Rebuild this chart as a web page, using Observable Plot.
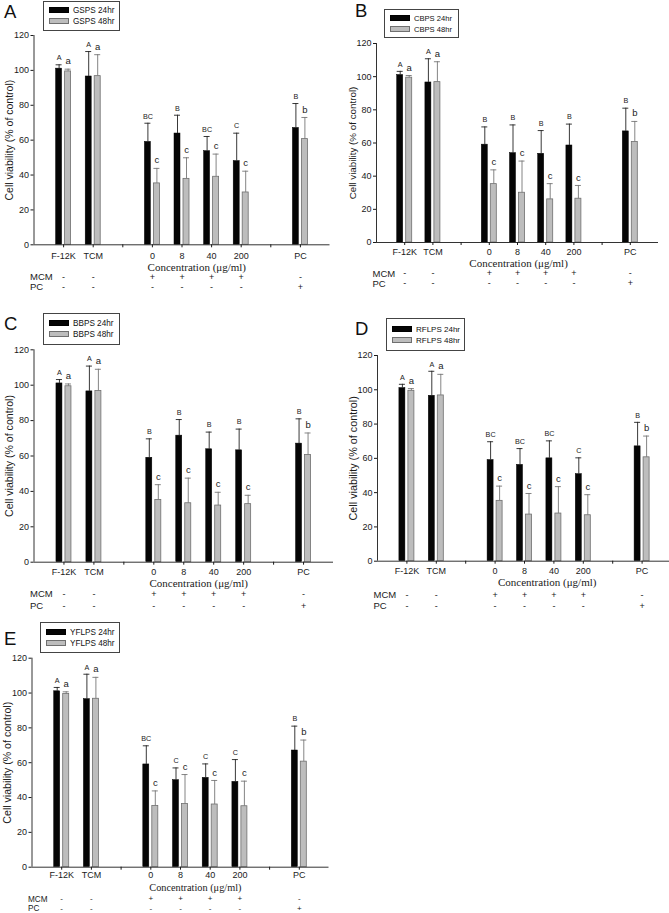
<!DOCTYPE html>
<html><head><meta charset="utf-8">
<script src="https://cdn.jsdelivr.net/npm/d3@7"></script>
<script src="https://cdn.jsdelivr.net/npm/@observablehq/plot@0.6"></script>
<style>
body{margin:0;background:#fff;}
#page{position:relative;width:669px;height:913px;overflow:hidden;background:#fff;font-family:"Liberation Sans",Arial,sans-serif;color:#111;}
.panel{position:absolute;}
.letter{position:absolute;font-size:18.5px;line-height:1;color:#111;}
.legend{position:absolute;border:1px solid #444;background:#fff;box-sizing:border-box;padding:5px 0 0 5px;}
.lrow{display:flex;align-items:center;height:8px;margin-bottom:3px;font-size:8px;color:#111;white-space:nowrap;}
.sw{width:20px;height:6px;margin-right:4px;box-sizing:border-box;flex:none;}
</style></head>
<body><div id="page"></div>
<script>
// ---- shared categories / tick labels ----
const categories = ["F-12K", "TCM", "", "0", "8", "40", "200", "", "PC"];
const groups = ["F-12K", "TCM", "0", "8", "40", "200", "PC"];
const mcmSigns = ["-", "-", "+", "+", "+", "+", "-"];
const pcSigns  = ["-", "-", "-", "-", "-", "-", "+"];
const yTicks = [0, 20, 40, 60, 80, 100, 120];
const yLabel = "Cell viability (% of control)";
const xLabel = "Concentration (\u03bcg/ml)";

// ---- Panel A: GSPS ----
const gspsMean24 = [101, 96.5, 59, 63.8, 53.7, 48, 67];
const gspsSd24   = [2.2, 14.3, 10.7, 10.5, 8.4, 16, 14];
const gspsMean48 = [99.4, 96.7, 35.2, 37.8, 39, 30, 60.6];
const gspsSd48   = [1.3, 12.3, 8.6, 12.1, 13, 12.2, 12.4];
const gspsLet24  = ["A", "A", "BC", "B", "BC", "C", "B"];
const gspsLet48  = ["a", "a", "c", "c", "c", "c", "b"];

// ---- Panel B: CBPS ----
const cbpsMean24 = [101, 96.5, 59, 53.9, 53.5, 58.5, 67];
const cbpsSd24   = [2.2, 14.3, 10.7, 17, 14, 12.9, 14];
const cbpsMean48 = [99.4, 96.7, 35.2, 30, 26, 26.4, 60.6];
const cbpsSd48   = [1.3, 12.3, 8.6, 19.1, 9.5, 8, 12.4];
const cbpsLet24  = ["A", "A", "B", "B", "B", "B", "B"];
const cbpsLet48  = ["a", "a", "c", "c", "c", "c", "b"];

// ---- Panel C: BBPS ----
const bbpsMean24 = [101, 96.5, 59, 71.5, 63.8, 63.2, 67];
const bbpsSd24   = [2.2, 14.3, 10.7, 9.1, 9.7, 12, 14];
const bbpsMean48 = [99.4, 96.7, 35.2, 33.3, 32, 32.8, 60.6];
const bbpsSd48   = [1.3, 12.3, 8.6, 14.2, 7.5, 5, 12.4];
const bbpsLet24  = ["A", "A", "B", "B", "B", "B", "B"];
const bbpsLet48  = ["a", "a", "c", "c", "c", "c", "b"];

// ---- Panel D: RFLPS ----
const rflpsMean24 = [101, 96.5, 59, 56.2, 60, 50.8, 67];
const rflpsSd24   = [2.2, 14.3, 10.7, 9.5, 10.2, 9.5, 14];
const rflpsMean48 = [99.4, 96.7, 35.2, 27.2, 27.8, 26.8, 60.6];
const rflpsSd48   = [1.3, 12.3, 8.6, 12.3, 15.7, 12, 12.4];
const rflpsLet24  = ["A", "A", "BC", "BC", "BC", "C", "B"];
const rflpsLet48  = ["a", "a", "c", "c", "c", "c", "b"];

// ---- Panel E: YFLPS ----
const yflpsMean24 = [101, 96.5, 59, 50, 51.3, 49, 67];
const yflpsSd24   = [2.2, 14.3, 10.7, 7, 8, 12.8, 14];
const yflpsMean48 = [99.4, 96.7, 35.2, 36.3, 36, 35, 60.6];
const yflpsSd48   = [1.3, 12.3, 8.6, 16.9, 13.8, 14.4, 12.4];
const yflpsLet24  = ["A", "A", "BC", "C", "C", "C", "B"];
const yflpsLet48  = ["a", "a", "c", "c", "c", "c", "b"];

const panels = [
  {letter: "A", name: "GSPS",  m24: gspsMean24,  s24: gspsSd24,  m48: gspsMean48,  s48: gspsSd48,  l24: gspsLet24,  l48: gspsLet48},
  {letter: "B", name: "CBPS",  m24: cbpsMean24,  s24: cbpsSd24,  m48: cbpsMean48,  s48: cbpsSd48,  l24: cbpsLet24,  l48: cbpsLet48},
  {letter: "C", name: "BBPS",  m24: bbpsMean24,  s24: bbpsSd24,  m48: bbpsMean48,  s48: bbpsSd48,  l24: bbpsLet24,  l48: bbpsLet48},
  {letter: "D", name: "RFLPS", m24: rflpsMean24, s24: rflpsSd24, m48: rflpsMean48, s48: rflpsSd48, l24: rflpsLet24, l48: rflpsLet48},
  {letter: "E", name: "YFLPS", m24: yflpsMean24, s24: yflpsSd24, m48: yflpsMean48, s48: yflpsSd48, l24: yflpsLet24, l48: yflpsLet48}
];

// ---- layout (page pixel coordinates) ----
const layouts = {
  A: {left: 0,   top: 0,   w: 335, h: 300, axisX: 33.5, axisR: 329.5, yTop: 35,    yBot: 244.3, letterXY: [4, 3],     leg: [43, 1, 77, 30],    legFont: 8.2, tickPad: 5,   concDy: 23,   concDx: 0,   concSize: 11,   mcmDy: 32,   pcDy: 42,   rowSize: 9.5, signSize: 9, yLabSize: 10.5},
  B: {left: 335, top: 0,   w: 334, h: 300, axisX: 376,  axisR: 658,   yTop: 43,    yBot: 242,   letterXY: [355, 2],   leg: [384, 9, 75, 29],   legFont: 7.6, tickPad: 3,   concDy: 21,   concDx: -13, concSize: 11,   mcmDy: 31,   pcDy: 41,   rowSize: 9.5, signSize: 9, yLabSize: 9.8},
  C: {left: 0,   top: 300, w: 335, h: 313, axisX: 33.5, axisR: 333,   yTop: 349.3, yBot: 561.7, letterXY: [4, 315],   leg: [43, 313, 77, 32],  legFont: 8.2, tickPad: 3,   concDy: 21,   concDx: 0,   concSize: 11,   mcmDy: 32,   pcDy: 44,   rowSize: 9.5, signSize: 9, yLabSize: 10.6},
  D: {left: 335, top: 300, w: 334, h: 313, axisX: 377,  axisR: 671,   yTop: 355,   yBot: 560.7, letterXY: [355, 320], leg: [386, 318, 79, 33], legFont: 8,   tickPad: 3,   concDy: 21,   concDx: 8,   concSize: 11,   mcmDy: 34,   pcDy: 45,   rowSize: 9.5, signSize: 9, yLabSize: 10.8},
  E: {left: 0,   top: 613, w: 335, h: 300, axisX: 31.5, axisR: 328.5, yTop: 657.7, yBot: 866.7, letterXY: [4, 630],   leg: [40, 622, 80, 31],  legFont: 8.2, tickPad: 1.5, concDy: 20.8, concDx: 0,   concSize: 10.3, mcmDy: 31.7, pcDy: 41.3, rowSize: 8.2, signSize: 8, yLabSize: 10.6}
};

const page = document.getElementById("page");

function drawPanel(p) {
  const L = layouts[p.letter];
  const n = categories.length;
  const slot = (L.axisR - L.axisX) / (n + 1);
  const u = px => px / slot;
  const rows = groups.map((g, j) => ({
    i: categories.indexOf(g),
    m24: p.m24[j], s24: p.s24[j], m48: p.m48[j], s48: p.s48[j],
    l24: p.l24[j], l48: p.l48[j], mcm: mcmSigns[j], pc: pcSigns[j]
  }));
  const concX = (categories.indexOf("0") + categories.indexOf("200")) / 2;
  const blackFill = "#050505", grayFill = "#bdbdbd", grayEdge = "#6f6f6f";

  const chart = Plot.plot({
    width: L.w, height: L.h,
    marginLeft: L.axisX - L.left,
    marginRight: Math.max(0, L.left + L.w - L.axisR),
    marginTop: L.yTop - L.top,
    marginBottom: L.top + L.h - L.yBot,
    x: {type: "linear", domain: [-1, n], range: [L.axisX - L.left, L.axisR - L.left]},
    y: {type: "linear", domain: [0, 120], range: [L.yBot - L.top, L.yTop - L.top]},
    style: {background: "transparent", overflow: "visible", maxWidth: "none", fontFamily: "'Liberation Sans', Arial, sans-serif", color: "#1a1a1a"},
    marks: [
      // bars
      Plot.rectY(rows, {x1: d => d.i - u(7.5), x2: d => d.i - u(1.5), y1: () => 0, y2: "m24", fill: blackFill, stroke: "#000", strokeWidth: 0.5}),
      Plot.rectY(rows, {x1: d => d.i + u(1.5), x2: d => d.i + u(7.5), y1: () => 0, y2: "m48", fill: grayFill, stroke: grayEdge, strokeWidth: 0.8}),
      // error bars (upper)
      Plot.ruleX(rows, {x: d => d.i - u(4.5), y1: "m24", y2: d => d.m24 + d.s24, stroke: "#222", strokeWidth: 0.9}),
      Plot.ruleY(rows, {y: d => d.m24 + d.s24, x1: d => d.i - u(7.5), x2: d => d.i - u(1.5), stroke: "#222", strokeWidth: 0.9}),
      Plot.ruleX(rows, {x: d => d.i + u(4.5), y1: "m48", y2: d => d.m48 + d.s48, stroke: "#777", strokeWidth: 0.9}),
      Plot.ruleY(rows, {y: d => d.m48 + d.s48, x1: d => d.i + u(1.5), x2: d => d.i + u(7.5), stroke: "#777", strokeWidth: 0.9}),
      // significance letters
      Plot.text(rows, {x: d => d.i - u(4.5), y: d => d.m24 + d.s24, text: "l24", dy: -7, fontSize: 7.2, fill: "#222"}),
      Plot.text(rows, {x: d => d.i + u(4.5), y: d => d.m48 + d.s48, text: "l48", dy: -8, fontSize: 9.5, fill: "#222"}),
      // axis lines
      Plot.ruleX([-1], {y1: () => 0, y2: () => 120, stroke: "#333", strokeWidth: 1}),
      Plot.ruleY([0], {x1: () => -1, x2: () => n, stroke: "#333", strokeWidth: 1}),
      Plot.axisY({ticks: yTicks, tickSize: 3, tickPadding: 2, fontSize: 9, label: null}),
      Plot.axisX({ticks: d3.range(n), tickFormat: i => categories[i], tickSize: 3, tickPadding: L.tickPad, fontSize: 9, label: null}),
      // y label
      Plot.text([yLabel], {x: () => -1, y: () => 60, text: d => d, dx: -24, rotate: -90, fontSize: L.yLabSize, fill: "#1a1a1a"}),
      // x label
      Plot.text([xLabel], {x: () => concX, y: () => 0, text: d => d, dy: L.concDy, dx: L.concDx, fontSize: L.concSize, fontFamily: "'Liberation Serif', 'Times New Roman', serif", fill: "#1a1a1a"}),
      // MCM / PC rows
      Plot.text(["MCM"], {x: () => -1, y: () => 0, text: d => d, dx: -4, dy: L.mcmDy, textAnchor: "start", fontSize: L.rowSize, fill: "#1a1a1a"}),
      Plot.text(["PC"], {x: () => -1, y: () => 0, text: d => d, dx: -4, dy: L.pcDy, textAnchor: "start", fontSize: L.rowSize, fill: "#1a1a1a"}),
      Plot.text(rows, {x: "i", y: () => 0, text: "mcm", dy: L.mcmDy, fontSize: L.signSize, fill: "#1a1a1a"}),
      Plot.text(rows, {x: "i", y: () => 0, text: "pc", dy: L.pcDy, fontSize: L.signSize, fill: "#1a1a1a"})
    ]
  });

  const div = document.createElement("div");
  div.className = "panel";
  div.style.left = L.left + "px";
  div.style.top = L.top + "px";
  div.appendChild(chart);
  page.appendChild(div);

  const let_ = document.createElement("div");
  let_.className = "letter";
  let_.textContent = p.letter;
  let_.style.left = L.letterXY[0] + "px";
  let_.style.top = L.letterXY[1] + "px";
  page.appendChild(let_);

  const leg = document.createElement("div");
  leg.className = "legend";
  leg.style.left = L.leg[0] + "px";
  leg.style.top = L.leg[1] + "px";
  leg.style.width = L.leg[2] + "px";
  leg.style.height = L.leg[3] + "px";
  leg.style.paddingTop = Math.round((L.leg[3] - 22) / 2) + "px";
  leg.innerHTML =
    `<div class="lrow" style="font-size:${L.legFont}px"><span class="sw" style="background:${blackFill};border:0.5px solid #000"></span>${p.name} 24hr</div>` +
    `<div class="lrow" style="font-size:${L.legFont}px"><span class="sw" style="background:${grayFill};border:1px solid ${grayEdge}"></span>${p.name} 48hr</div>`;
  page.appendChild(leg);
}

panels.forEach(drawPanel);
</script>
</body></html>
